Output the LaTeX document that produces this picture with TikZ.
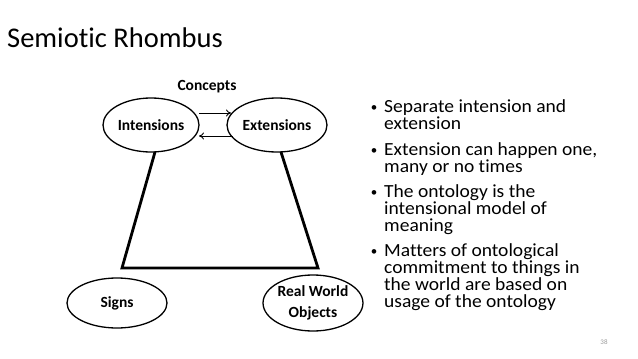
\documentclass[tikz,border=0pt]{standalone}
\usepackage{fontspec}
\usepackage{graphicx}
\setmainfont{Carlito}[Ligatures=NoCommon]
\usetikzlibrary{shapes.geometric,arrows.meta}
\newcommand{\wideline}[1]{\scalebox{1.055}[1]{#1}}
\begin{document}
\begin{tikzpicture}[x=1pt,y=-1pt,
  oval/.style={draw,ellipse,line width=1.3pt,inner sep=0pt,font=\fontsize{15.5}{18}\selectfont\bfseries,align=center},
  rel/.style={line width=0.9pt,-{To[length=5pt,width=7pt]}},
  side/.style={line width=2.8pt},
  ln/.style={anchor=base west,inner sep=0pt,text height=11pt,text depth=3pt,font=\fontsize{18.5}{17}\selectfont},
  bul/.style={anchor=base,inner sep=0pt,font=\fontsize{13}{14}\selectfont}]
\useasboundingbox (0,0) rectangle (638,359);
\node[anchor=base west,inner sep=0pt,font=\fontsize{28.5}{30}\selectfont] (title) at (7,47) {Semiotic Rhombus};
\node[font=\fontsize{15.5}{18}\selectfont\bfseries,inner sep=0pt] (conc) at (207,87) {Concepts};
\node[oval,minimum width=96pt,minimum height=54pt] (int) at (151,125) {Intensions};
\node[oval,minimum width=100pt,minimum height=54pt] (ext) at (277,125) {Extensions};
\node[oval,minimum width=100pt,minimum height=50pt] (sig) at (117,303) {Signs};
\node[oval,minimum width=88pt,minimum height=56pt] (rwo) at (313,303) {Real World\\[3pt]Objects};
\coordinate (t1) at (199,113); \coordinate (t2) at (231,113);
\coordinate (b1) at (233,136); \coordinate (b2) at (199,136);
\draw[rel] (t1) -- (t2);
\draw[rel] (b1) -- (b2);
\coordinate (lt) at (155,152); \coordinate (rt) at (281,152);
\coordinate (lb) at (122,268); \coordinate (rb) at (318,268);
\draw[side,line join=miter] (lt) -- (lb) -- (rb) -- (rt);
\node[bul] (d1) at (374,111) {•};
\node[ln] (l1) at (384,112) {\wideline{Separate intension and}};
\node[ln] (l2) at (384,129) {\wideline{extension}};
\node[bul] (d2) at (374,154) {•};
\node[ln] (l3) at (384,155) {\wideline{Extension can happen one,}};
\node[ln] (l4) at (384,172) {\wideline{many or no times}};
\node[bul] (d3) at (374,196) {•};
\node[ln] (l5) at (384,197) {\wideline{The ontology is the}};
\node[ln] (l6) at (384,214) {\wideline{intensional model of}};
\node[ln] (l7) at (384,231) {\wideline{meaning}};
\node[bul] (d4) at (374,255) {•};
\node[ln] (l8) at (384,256) {\wideline{Matters of ontological}};
\node[ln] (l9) at (384,273) {\wideline{commitment to things in}};
\node[ln] (l10) at (384,290) {\wideline{the world are based on}};
\node[ln] (l11) at (384,307) {\wideline{usage of the ontology}};
\node[font=\fontsize{7}{8}\selectfont,text=black!40] (pg) at (604,342) {38};
\end{tikzpicture}
\end{document}
